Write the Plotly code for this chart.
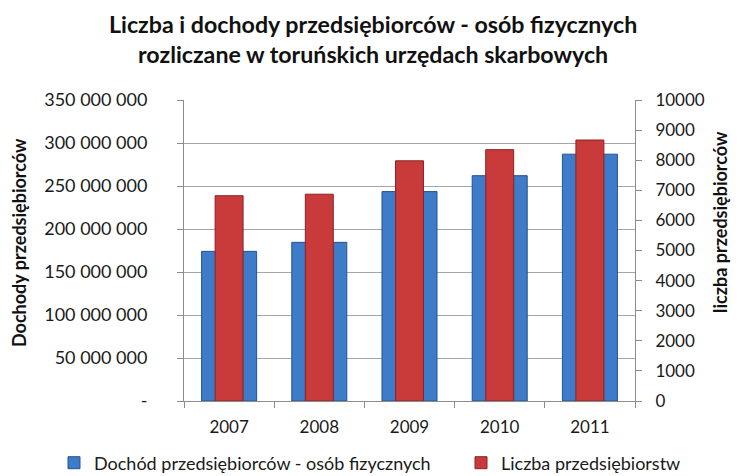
import plotly.graph_objects as go

years = ["2007", "2008", "2009", "2010", "2011"]
dochody = [174_000_000, 184_500_000, 243_500_000, 262_000_000, 287_000_000]
liczba = [6820, 6870, 7980, 8350, 8670]

left_tickvals = [0, 50e6, 100e6, 150e6, 200e6, 250e6, 300e6, 350e6]
left_ticktext = ["-", "50 000 000", "100 000 000", "150 000 000", "200 000 000",
                 "250 000 000", "300 000 000", "350 000 000"]
right_tickvals = [0, 1000, 2000, 3000, 4000, 5000, 6000, 7000, 8000, 9000, 10000]
right_ticktext = [str(v) for v in right_tickvals]

FONT = "Lato, 'Open Sans', sans-serif"
TXT = "#1a1a1a"

W, H = 742, 476
L, R, T, B = 184, 107, 100, 75
PW, PH = W - L - R, H - T - B

fig = go.Figure()
fig.add_trace(go.Bar(
    x=years, y=dochody, name="Dochód przedsiębiorców - osób fizycznych",
    marker=dict(color="#3E7BC8", line=dict(color="#24548F", width=1)),
    width=0.61, yaxis="y", legend="legend", showlegend=True,
))
fig.add_trace(go.Bar(
    x=years, y=liczba, name="Liczba przedsiębiorstw",
    marker=dict(color="#C93A3A", line=dict(color="#8A2323", width=1)),
    width=0.31, yaxis="y2", legend="legend2", showlegend=True,
))

leg_common = dict(orientation="h", xref="container", yref="container",
                  xanchor="left", yanchor="middle", y=(H - 463) / H,
                  font=dict(size=18, color=TXT), bgcolor="rgba(0,0,0,0)")

fig.update_layout(
    width=W, height=H,
    margin=dict(l=L, r=R, t=T, b=B, autoexpand=False),
    paper_bgcolor="white", plot_bgcolor="white",
    barmode="overlay", showlegend=True,
    font=dict(family=FONT, size=17, color=TXT),
    xaxis=dict(
        showline=True, linecolor="#8c8c8c", linewidth=1,
        ticks="outside", tickson="boundaries", ticklen=6, tickcolor="#8c8c8c",
        ticklabelstandoff=11, showgrid=False,
        tickfont=dict(size=17, color=TXT),
    ),
    yaxis=dict(
        range=[0, 350e6], tickvals=left_tickvals, ticktext=left_ticktext,
        showline=True, linecolor="#8c8c8c", linewidth=1,
        ticks="outside", ticklen=6, tickcolor="#8c8c8c",
        showgrid=True, gridcolor="#a6a6a6", gridwidth=1,
        ticklabelstandoff=26, zeroline=False,
        tickfont=dict(size=18, color=TXT),
    ),
    yaxis2=dict(
        range=[0, 10000], tickvals=right_tickvals, ticktext=right_ticktext,
        overlaying="y", side="right",
        showline=True, linecolor="#8c8c8c", linewidth=1,
        ticks="outside", ticklen=6, tickcolor="#8c8c8c",
        showgrid=False, zeroline=False, ticklabelstandoff=10,
        tickfont=dict(size=17, color=TXT),
    ),
    legend=dict(x=54 / W, **leg_common),
    legend2=dict(x=461 / W, **leg_common),
    annotations=[
        dict(text="<b>Liczba i dochody przedsiębiorców - osób fizycznych<br>rozliczane w toruńskich urzędach skarbowych</b>",
             xref="paper", yref="paper", x=(373 - L) / PW, y=(PH + T - 8) / PH,
             xanchor="center", yanchor="top", showarrow=False,
             font=dict(family=FONT, size=23.2, color="#111")),
        dict(text="<b>Dochody przedsiębiorców</b>", textangle=-90,
             xref="paper", yref="paper", x=(19 - L) / PW, y=(PH + T - 243) / PH,
             xanchor="center", yanchor="middle",
             showarrow=False, font=dict(size=18, color="#111")),
        dict(text="<b>liczba przedsiębiorców</b>", textangle=-90,
             xref="paper", yref="paper", x=(720 - L) / PW, y=(PH + T - 222) / PH,
             xanchor="center", yanchor="middle",
             showarrow=False, font=dict(size=18, color="#111")),
    ],
)

fig.write_html("out.html", config={"displayModeBar": False},
               post_script="document.body.style.margin='0';")
